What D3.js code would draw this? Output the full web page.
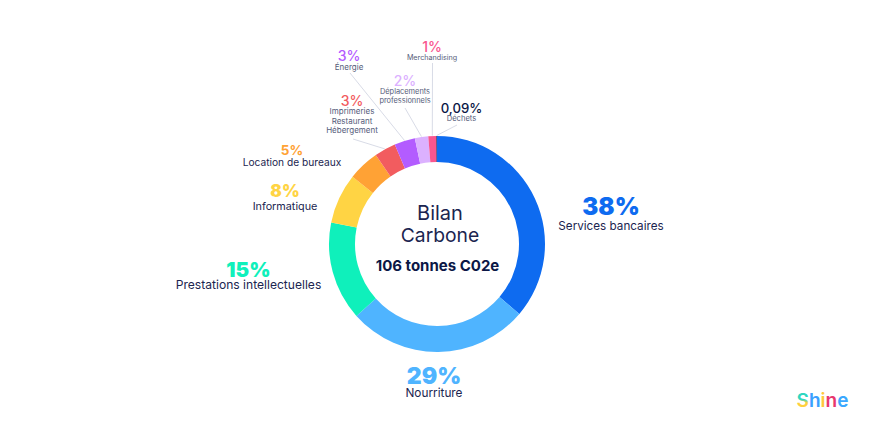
<!DOCTYPE html>
<html><head><meta charset="utf-8">
<script src="https://cdn.jsdelivr.net/npm/d3@7"></script>
<style>html,body{margin:0;background:#fff}svg{display:block}text{font-family:Inter,Roboto,sans-serif;text-anchor:middle}</style>
</head><body><svg id="c" width="882" height="432"></svg>
<script>
// Data
const categories = ["Services bancaires","Nourriture","Prestations intellectuelles","Informatique","Location de bureaux","Imprimeries Restaurant Hébergement","Énergie","Déplacements professionnels","Merchandising","Déchets"];
const percentLabels = ["38%","29%","15%","8%","5%","3%","3%","2%","1%","0,09%"];
const sliceShares = [36.2,27.2,14.8,7.5,4.7,3.2,3.1,2.0,1.2,0.09];
const colors = ["#0e6bf0","#4fb4ff","#0ff0bb","#ffd444","#ffa235","#f25c5f","#b35cff","#dcb1ff","#f9568f","#0b1746"];

const ink="#1b2550", grey="#555c7a";
// layout of the labels: x centre, percent baseline, text baselines
const layout=[
 {x:611,py:215,ps:24,pw:900,ly:[230],ls:11.7,lc:ink},
 {x:434,py:384,ps:23,pw:900,ly:[397],ls:11.8,lc:ink},
 {x:248.5,py:277,ps:20.5,pw:900,ly:[289],ls:12.1,lc:ink},
 {x:285,py:197,ps:17,pw:900,ly:[210],ls:10.8,lc:ink},
 {x:292,py:155,ps:13.5,pw:700,ly:[166],ls:10.2,lc:ink},
 {x:352,py:106,ps:14,pw:500,ly:[114,124,133],ls:8,lc:grey,lines:["Imprimeries","Restaurant","Hébergement"],lead:[353,139]},
 {x:349,py:61,ps:14,pw:500,ly:[70],ls:8,lc:grey,lines:["Énergie"],lead:[350,73]},
 {x:405,py:86,ps:14,pw:500,ly:[94,103],ls:7.4,lc:grey,lines:["Déplacements","professionnels"],lead:[405,108]},
 {x:432,py:52,ps:14,pw:500,ly:[60],ls:7.2,lc:grey,lines:["Merchandising"],lead:[432.5,63]},
 {x:461.5,py:113,ps:13.2,pw:500,ly:[121],ls:7.6,lc:grey,lines:["Déchets"],lead:[457,125]}
];

const svg=d3.select("#c");
const cx=437,cy=244,R=108,r=82;
const g=svg.append("g").attr("transform",`translate(${cx},${cy})`);
const pie=d3.pie().sort(null).value(d=>d)(sliceShares);
const arc=d3.arc().innerRadius(r).outerRadius(R);
g.selectAll("path").data(pie).join("path").attr("d",arc).attr("fill",(d,i)=>colors[i]);

// leaders run from the label to the middle of their slice
pie.forEach((d,i)=>{
  const l=layout[i]; if(!l.lead) return;
  const a=(d.startAngle+d.endAngle)/2;
  const ex=cx+Math.sin(a)*(R+0.5), ey=cy-Math.cos(a)*(R+0.5);
  svg.append("line").attr("x1",l.lead[0]).attr("y1",l.lead[1]).attr("x2",ex).attr("y2",ey)
     .attr("stroke","#d4d7e3").attr("stroke-width",0.9);
});
// labels
categories.forEach((c,i)=>{
  const l=layout[i];
  svg.append("text").attr("x",l.x).attr("y",l.py).attr("font-size",l.ps).attr("font-weight",l.pw)
     .attr("fill",colors[i]).text(percentLabels[i]);
  (l.lines||[c]).forEach((t,j)=>svg.append("text").attr("x",l.x).attr("y",l.ly[j])
     .attr("font-size",l.ls).attr("font-weight",400).attr("fill",l.lc).text(t));
});
// centre
svg.append("text").attr("x",440).attr("y",220).attr("font-size",20).attr("fill",ink).text("Bilan");
svg.append("text").attr("x",440).attr("y",242).attr("font-size",19.3).attr("fill",ink).text("Carbone");
svg.append("text").attr("x",437.5).attr("y",271).attr("font-size",15).attr("fill","#0b1746").attr("font-weight",700).text("106 tonnes C02e");
// logo
const defs=svg.append("defs");
const grad=defs.append("linearGradient").attr("id","logoS").attr("x1",0).attr("y1",0).attr("x2",0).attr("y2",1);
grad.append("stop").attr("offset","45%").attr("stop-color","#2fd6c0");
grad.append("stop").attr("offset","60%").attr("stop-color","#ffd03d");
const logoLetters=["S","h","i","n","e"], logoColors=["url(#logoS)","#3aa0ff","#ffc83d","#e8376e","#3aa8ff"];
const logo=svg.append("text").attr("x",822.5).attr("y",407).attr("font-size",19).attr("font-weight",600);
logoLetters.forEach((t,i)=>logo.append("tspan").attr("fill",logoColors[i]).text(t));
</script></body></html>
